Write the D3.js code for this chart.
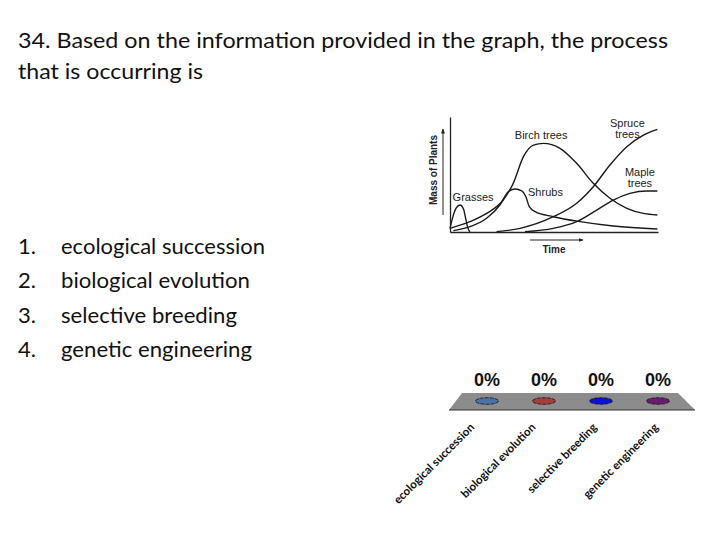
<!DOCTYPE html>
<html>
<head>
<meta charset="utf-8">
<script src="https://cdn.jsdelivr.net/npm/d3@7/dist/d3.min.js"></script>
<style>
  html, body { margin: 0; padding: 0; background: #fff; }
  svg { display: block; }
</style>
</head>
<body>
<svg id="chart" width="720" height="540"></svg>
<script>
// ---------- data ----------
const titleLines = ["34. Based on the information provided in the graph, the process", "that is occurring is"];
const choices = ["ecological succession", "biological evolution", "selective breeding", "genetic engineering"];
const choiceNumbers = ["1.", "2.", "3.", "4."];
const responseValues = [0, 0, 0, 0];
const responseColors = ["#4a72aa", "#a83c3c", "#0a12d6", "#6a1c6e"];

// succession graph series: [time, mass]
const grassesSeries = [[0,3],[1.5,14],[3,21],[4.8,23.5],[6.5,20],[7.5,12],[8.5,4],[9.6,0]];
const shrubsSeries = [[1.6,1.2],[9.6,4.6],[17.6,11.9],[24,23.5],[28,35],[31.2,37.4],[34.5,35.7],[36.5,30.7],[38.1,22],[40.9,17.7],[49.7,13.3],[62.5,9],[78.5,5.2],[99.7,2.6]];
const birchSeries = [[0,3.2],[9.6,9],[17.6,16.2],[25.6,27.8],[30.4,42.3],[35.3,65.5],[40.1,75.6],[44.9,77.1],[52.9,72.8],[60.9,59.7],[68.9,42.3],[76.9,29.3],[85,20.6],[93,16.2],[99.7,14.8]];
const spruceSeries = [[22.4,0.3],[33.7,3.2],[49.7,13.3],[60.9,25],[68.9,39.4],[76.9,58.3],[85,74.2],[93,84.3],[99.7,89.3]];
const mapleSeries = [[36.1,0.3],[49.7,3.2],[60.9,9],[70.5,19.1],[78.5,27.8],[86.5,33.6],[94.6,35.7],[99.7,35.7]];
const seriesLabels = [
  {lines:["Grasses"], t:11.1, m:27},
  {lines:["Birch trees"], t:43.8, m:81},
  {lines:["Shrubs"], t:45.9, m:31.3},
  {lines:["Spruce","trees"], t:85.3, m:91.3},
  {lines:["Maple","trees"], t:91.3, m:48.7}
];

// ---------- drawing ----------
const svg = d3.select("#chart");
const font = "Lato, 'Open Sans', sans-serif";
const sans = "'Liberation Sans', Arial, sans-serif";

// title
const titleWidths = [650, 185];
svg.selectAll("text.title").data(titleLines).join("text")
  .attr("class", "title")
  .attr("x", 18).attr("y", (d, i) => 48 + i * 31)
  .attr("font-family", font).attr("font-size", 22).attr("fill", "#111")
  .attr("textLength", (d, i) => titleWidths[i]).attr("lengthAdjust", "spacingAndGlyphs")
  .text(d => d);

// numbered list
const listWidths = [204, 189, 176, 191];
const listY = d3.scalePoint().domain(choices).range([254, 357]);
svg.selectAll("text.num").data(choices).join("text")
  .attr("class", "num")
  .attr("x", 18).attr("y", d => listY(d))
  .attr("font-family", font).attr("font-size", 22).attr("fill", "#111")
  .text((d, i) => choiceNumbers[i]);
svg.selectAll("text.choice").data(choices).join("text")
  .attr("class", "choice")
  .attr("x", 61).attr("y", d => listY(d))
  .attr("font-family", font).attr("font-size", 22).attr("fill", "#111")
  .attr("textLength", (d, i) => listWidths[i]).attr("lengthAdjust", "spacingAndGlyphs")
  .text(d => d);

// ---------- succession graph ----------
const gx = d3.scaleLinear().domain([0, 100]).range([450, 658]);
const gy = d3.scaleLinear().domain([0, 100]).range([232, 117]);
const g = svg.append("g");

const xAxis = d3.axisBottom(gx).tickValues([]).tickSizeOuter(0);
const yAxis = d3.axisLeft(gy).tickValues([]).tickSizeOuter(0);
g.append("g").attr("transform", `translate(0,${gy(0)})`).call(xAxis)
  .select(".domain").attr("stroke", "#222").attr("stroke-width", 1.3);
g.append("g").attr("transform", `translate(${gx(0)},0)`).call(yAxis)
  .select(".domain").attr("stroke", "#222").attr("stroke-width", 1.3);

const line = d3.line().x(d => gx(d[0])).y(d => gy(d[1])).curve(d3.curveMonotoneX);
[grassesSeries, shrubsSeries, birchSeries, spruceSeries, mapleSeries].forEach(s => {
  g.append("path").datum(s).attr("d", line)
    .attr("fill", "none").attr("stroke", "#1a1a1a").attr("stroke-width", 1.4);
});

seriesLabels.forEach(l => {
  const t = g.append("text").attr("font-family", sans)
    .attr("font-size", 11).attr("fill", "#222").attr("text-anchor", "middle");
  l.lines.forEach((ln, i) => {
    t.append("tspan").attr("x", gx(l.t)).attr("y", gy(l.m) + i * 11).text(ln);
  });
});

// arrow marker
const defs = svg.append("defs");
defs.append("marker").attr("id", "arr").attr("viewBox", "0 0 10 10")
  .attr("refX", 9).attr("refY", 5).attr("markerWidth", 5).attr("markerHeight", 5)
  .attr("orient", "auto")
  .append("path").attr("d", "M0,1 L10,5 L0,9 Z").attr("fill", "#222");

g.append("line").attr("x1", 443).attr("y1", 215).attr("x2", 443).attr("y2", 129)
  .attr("stroke", "#222").attr("stroke-width", 1).attr("marker-end", "url(#arr)");
g.append("text").attr("transform", "translate(437,170) rotate(-90)")
  .attr("text-anchor", "middle").attr("font-family", sans)
  .attr("font-weight", "bold").attr("font-size", 10).attr("fill", "#222")
  .text("Mass of Plants");
g.append("line").attr("x1", 530).attr("y1", 240).attr("x2", 583).attr("y2", 240)
  .attr("stroke", "#222").attr("stroke-width", 1).attr("marker-end", "url(#arr)");
g.append("text").attr("x", 554).attr("y", 253).attr("text-anchor", "middle")
  .attr("font-family", sans)
  .attr("font-weight", "bold").attr("font-size", 10).attr("fill", "#222")
  .text("Time");

// ---------- response chart ----------
const bx = d3.scalePoint().domain(choices).range([487, 658]);
const labelX = d3.scalePoint().domain(choices).range([475, 659]);
const platformTop = 393, platformBottom = 410;

svg.append("path")
  .attr("d", `M462,${platformTop} L678,${platformTop} L695,${platformBottom} L449,${platformBottom} Z`)
  .attr("fill", "#8c8c8c");
svg.append("line").attr("x1", 449).attr("x2", 695).attr("y1", platformBottom).attr("y2", platformBottom)
  .attr("stroke", "#333").attr("stroke-width", 1.2);

const hScale = d3.scaleLinear().domain([0, 100]).range([0, 120]);
svg.selectAll("ellipse.bar").data(choices).join("ellipse")
  .attr("class", "bar")
  .attr("cx", d => bx(d)).attr("cy", (d, i) => 401 - hScale(responseValues[i]))
  .attr("rx", 11.5).attr("ry", 3.3)
  .attr("fill", (d, i) => responseColors[i])
  .attr("stroke", "#111").attr("stroke-width", 0.8).attr("stroke-dasharray", "4,1");

svg.selectAll("text.pct").data(choices).join("text")
  .attr("class", "pct")
  .attr("x", d => bx(d)).attr("y", (d, i) => 386 - hScale(responseValues[i]))
  .attr("text-anchor", "middle")
  .attr("font-family", sans)
  .attr("font-weight", "bold").attr("font-size", 18).attr("fill", "#111")
  .text((d, i) => responseValues[i] + "%");

svg.selectAll("text.cat").data(choices).join("text")
  .attr("class", "cat")
  .attr("transform", d => `translate(${labelX(d)},428) rotate(-45)`)
  .attr("text-anchor", "end")
  .attr("font-family", font).attr("font-weight", "bold").attr("font-size", 11.5).attr("fill", "#111")
  .text(d => d);
</script>
</body>
</html>
